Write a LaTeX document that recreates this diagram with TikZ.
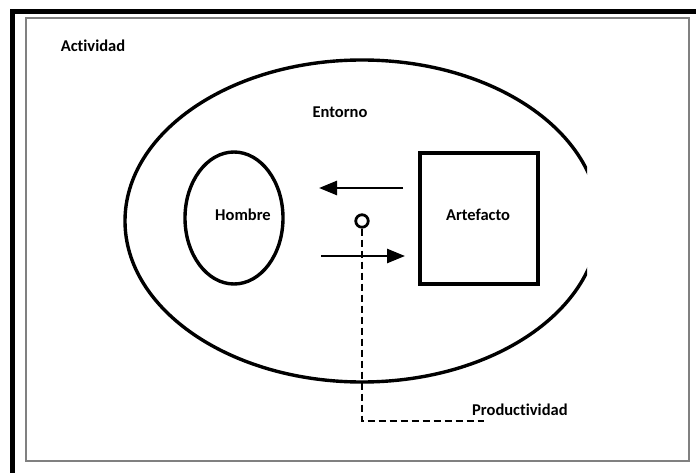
\documentclass[tikz,border=0pt]{standalone}
\usepackage{fontspec}
\setmainfont[Ligatures=NoCommon]{Carlito}
\usetikzlibrary{arrows.meta,shapes.geometric}
\begin{document}
\begin{tikzpicture}[x=1pt,y=-1pt,
  lbl/.style={font=\bfseries\fontsize{16.5}{18}\selectfont, inner sep=0pt},
  flow/.style={line width=2.6pt, -{Triangle[length=18pt,width=14pt]}},
  shapeline/.style={line width=3.4pt}]
\useasboundingbox (0,0) rectangle (696,473);
% frame
\draw[line width=5pt] (12,473) -- (12,12) -- (700,12);
\draw[gray, line width=1.6pt] (26,18) rectangle (689,461);
\node[lbl] (act) at (93,46) {Actividad};
% environment ellipse, clipped on the right
\begin{scope}
\clip (0,0) rectangle (587,473);
\node[draw, shapeline, ellipse, minimum width=474pt, minimum height=322pt, inner sep=0pt] (ent) at (362,221) {};
\end{scope}
\node[lbl] (entl) at (340,112) {Entorno};
\node[draw, shapeline, ellipse, minimum width=98pt, minimum height=132pt, inner sep=0pt] (hom) at (234,218) {};
\node[lbl] at (243,215) {Hombre};
\node[draw, line width=3.6pt, minimum width=118pt, minimum height=131pt, inner sep=0pt] (art) at (479,218.5) {};
\node[lbl] at (478,215) {Artefacto};
\node[draw, line width=2.8pt, circle, minimum size=12.5pt, inner sep=0pt] (dot) at (362,221) {};
\coordinate (a1s) at (403,188);
\coordinate (a1e) at (319,188);
\coordinate (a2s) at (321,256);
\coordinate (a2e) at (405,256);
\draw[flow] (a1s) -- (a1e);
\draw[flow] (a2s) -- (a2e);
\node[lbl, anchor=west] (prod) at (472,410) {Productividad};
\coordinate (corner) at (362,421);
\coordinate (dend) at (484,421);
\draw[line width=1.8pt, dash pattern=on 7pt off 4pt] (dot.south) -- (corner) -- (dend);
\end{tikzpicture}
\end{document}
